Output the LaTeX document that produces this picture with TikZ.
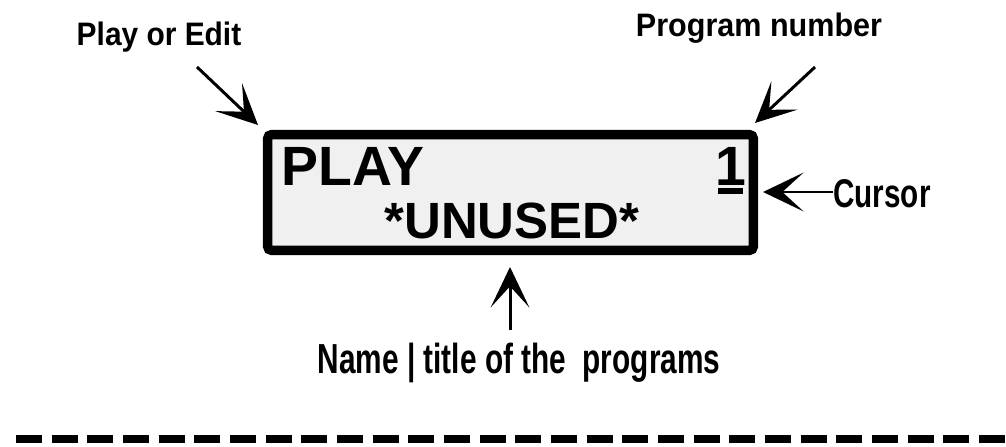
\documentclass[tikz,border=0pt]{standalone}
\usepackage{fontspec}
\setmainfont{Liberation Sans}
\usepackage{tikz}
\usetikzlibrary{arrows.meta, positioning, calc}

\begin{document}
\begin{tikzpicture}[
  x=0.02cm, y=-0.02cm,
  lcd/.style={draw, line width=5.4pt, rounded corners=2.5pt, fill=black!6,
              minimum width=9.72cm, minimum height=2.32cm, inner sep=0pt, outer sep=0pt},
  screen/.style={inner sep=0pt, font=\bfseries\fontsize{#1}{#1}\selectfont},
  lbl/.style={inner sep=0pt, font=\bfseries\fontsize{#1}{#1}\selectfont},
  arr/.style={-{Stealth[length=23pt, width=22pt, inset=12pt]}, line width=1.7pt},
]
  \useasboundingbox (0,0) rectangle (1006,446);

  % display
  \node[lcd] (box) at (510.5,192.5) {};
  \node[screen=31.5pt, anchor=base west] (mode) at (281,185) {PLAY};
  \node[screen=31.5pt, anchor=base] (num) at (731,185) {1};
  \fill (718,188) rectangle (743,194);
  \node[screen=29pt, anchor=base] (name) at (512,238) {*UNUSED*};

  % labels
  \node[lbl=18.5pt, anchor=base] (pe) at (159,46) {\scalebox{0.92}[1]{Play or Edit}};
  \node[lbl=18.5pt, anchor=base] (pn) at (759,37) {\scalebox{0.94}[1]{Program number}};
  \node[lbl=22.8pt, anchor=base] (cur) at (882,207) {\scalebox{0.74}[1]{Cursor}};
  \node[lbl=23.9pt, anchor=base] (ttl) at (519,373) {\scalebox{0.71}[1]{Name | title of the\ \ programs}};

  % arrows
  \coordinate (pe tail) at (197,67);
  \coordinate (pe tip) at (258,125);
  \coordinate (pn tail) at (815,67);
  \coordinate (pn tip) at (755,123);
  \coordinate (cur tip) at (763,192);
  \coordinate (ttl tail) at (510,330);
  \coordinate (ttl tip) at (510,267);
  \draw[arr] (pe tail) -- (pe tip);
  \draw[arr] (pn tail) -- (pn tip);
  \draw[arr] (cur.west |- cur tip) -- (cur tip);
  \draw[arr] (ttl tail) -- (ttl tip);

  % separator
  \coordinate (sep l) at (16,439);
  \coordinate (sep r) at (1006,439);
  \draw[line width=4.6pt, dash pattern=on 14.8pt off 5.5pt] (sep l) -- (sep r);
\end{tikzpicture}
\end{document}
